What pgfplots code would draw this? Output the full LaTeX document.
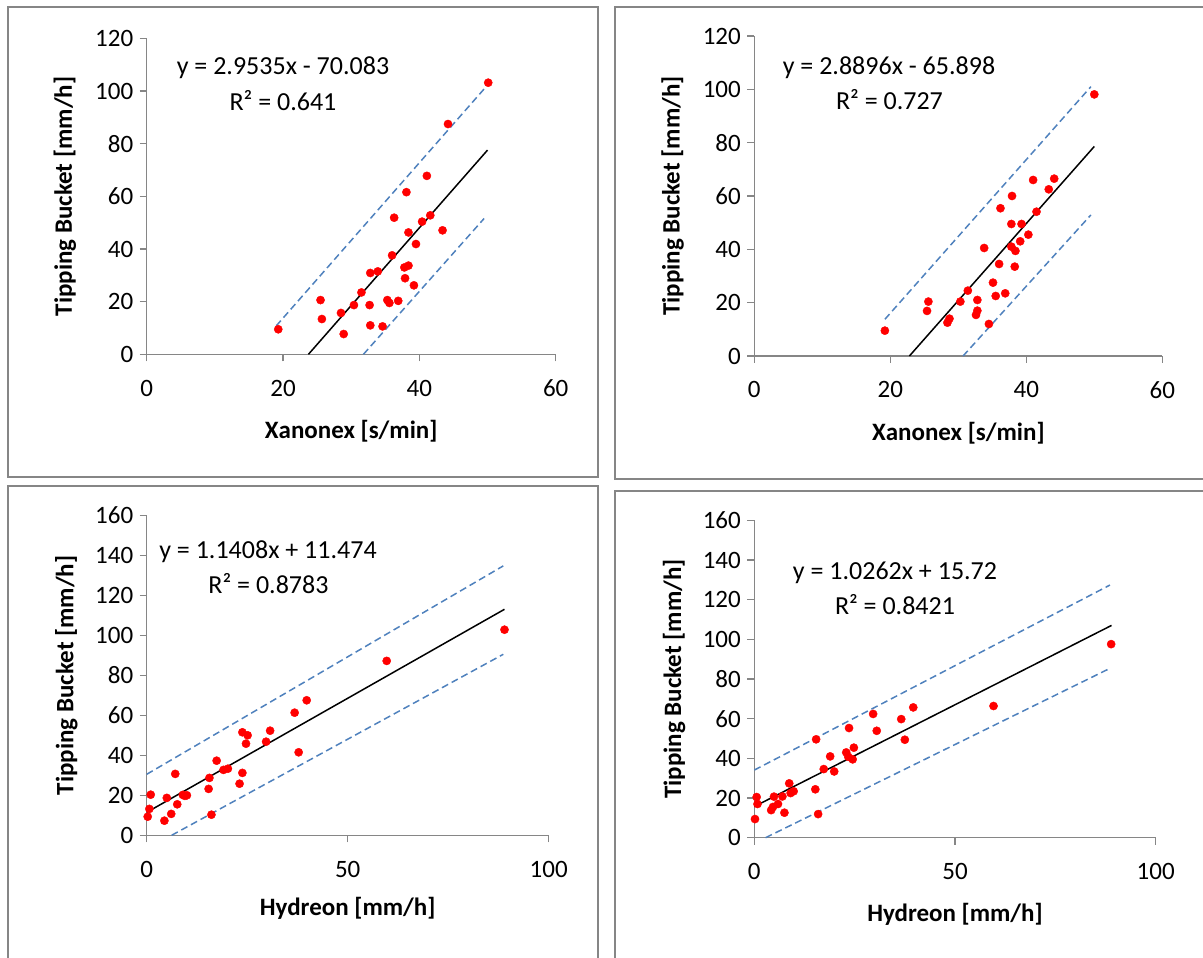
\documentclass[border=0pt]{standalone}
\usepackage{fontspec}
\setmainfont{Carlito}
\usepackage{pgfplots}
\pgfplotsset{compat=1.18}

\definecolor{axgray}{HTML}{868686}
\definecolor{bandblue}{HTML}{4F81BD}
\newcommand{\chartfont}{\fontsize{25bp}{30bp}\selectfont}
\newcommand{\eqfont}{\fontsize{26bp}{31bp}\selectfont}

\pgfplotsset{
  panel/.style={
    scale only axis,
    anchor=south west,
    axis lines=left,
    axis line style={-, axgray, line width=1.3bp},
    tick style={axgray, line width=1.3bp},
    tick align=outside,
    major tick length=7bp,
    clip=false,
    /pgf/number format/assume math mode=true,
    ticklabel style={font=\chartfont, black},
    xticklabel style={yshift=-15bp},
    yticklabel style={xshift=-3bp},
    label style={font=\chartfont\bfseries, black},
    ylabel style={at={(axis description cs:-0.2,0.5)}, anchor=center},
    xlabel style={at={(axis description cs:0.5,0)}, yshift=-77bp, anchor=center},
  },
  pts/.style={only marks, mark=*, mark size=4.1bp, color=red},
  trend/.style={black, line width=1.5bp, no marks},
  band/.style={bandblue, line width=1.5bp, dash pattern=on 7bp off 4bp, no marks},
}

\begin{document}
\begin{tikzpicture}[x=1bp, y=1bp]
\useasboundingbox (0,0) rectangle (1203,958);
% frames round the four charts
\draw[axgray, line width=2bp] (8,951) rectangle (598,481);
\draw[axgray, line width=2bp] (615,951) rectangle (1215,479);
\draw[axgray, line width=2bp] (8,472) rectangle (598,-10);
\draw[axgray, line width=2bp] (615,467) rectangle (1215,-10);

% top left
\begin{axis}[panel, at={(146.7bp,603.7bp)}, width=409bp, height=315.8bp,
  xmin=0, xmax=60, ymin=0, ymax=120, xtick={0,20,40,60}, ytick={0,20,...,120},
  xlabel={Xanonex [s/min]}, ylabel={Tipping Bucket [mm/h]}]
  \addplot[band] coordinates {(19.0,10.8) (50,102.3)};
  \addplot[band] coordinates {(31.8,0) (49.5,51.6)};
  \addplot[trend] coordinates {(23.73,0) (50,77.59)};
  \addplot[pts] coordinates {
    (19.3,9.5) (50.1,103.2) (44.2,87.5) (41.1,67.8) (38.1,61.6) (36.3,51.9)
    (40.4,50.4) (41.6,52.8) (43.4,47.1) (38.4,46.3) (39.5,41.9) (36.0,37.6)
    (37.8,33.0) (38.4,33.7) (37.9,28.9) (39.2,26.2) (32.8,30.9) (33.9,31.5)
    (31.5,23.5) (30.4,18.7) (32.7,18.7) (35.3,20.6) (35.6,19.5) (36.9,20.3)
    (25.5,20.6) (25.7,13.4) (28.5,15.7) (28.9,7.7) (32.8,11.0) (34.6,10.6)
  };
\end{axis}

% top right
\begin{axis}[panel, at={(754.3bp,602bp)}, width=408bp, height=320bp,
  xmin=0, xmax=60, ymin=0, ymax=120, xtick={0,20,40,60}, ytick={0,20,...,120},
  xlabel={Xanonex [s/min]}, ylabel={Tipping Bucket [mm/h]}]
  \addplot[band] coordinates {(19.2,13.75) (49.5,101)};
  \addplot[band] coordinates {(30.7,0) (49.5,52.9)};
  \addplot[trend] coordinates {(22.81,0) (50,78.58)};
  \addplot[pts] coordinates {
    (19.2,9.5) (50.0,98.1) (25.4,16.9) (25.6,20.4) (28.4,12.5) (28.7,14.0)
    (30.3,20.4) (31.4,24.5) (32.8,21.0) (32.8,17.0) (32.6,15.4) (34.5,12.0)
    (33.8,40.5) (35.1,27.5) (35.5,22.5) (36.9,23.5) (36.0,34.5) (36.2,55.4)
    (37.9,60.0) (37.8,49.5) (39.3,49.5) (37.8,41.0) (38.4,39.4) (39.1,43.0)
    (38.3,33.5) (40.3,45.5) (41.5,54.1) (41.0,66.0) (43.3,62.5) (44.1,66.5)
  };
\end{axis}

% bottom left
\begin{axis}[panel, at={(146.7bp,122.7bp)}, width=402bp, height=320bp,
  xmin=0, xmax=100, ymin=0, ymax=160, xtick={0,50,100}, ytick={0,20,...,160},
  xlabel={Hydreon [mm/h]}, ylabel={Tipping Bucket [mm/h]},
  xlabel style={yshift=4bp}]
  \addplot[band] coordinates {(0,30.5) (88.7,134.7)};
  \addplot[band] coordinates {(6.2,0) (88.7,90.5)};
  \addplot[trend] coordinates {(0,11.47) (89,113.0)};
  \addplot[pts] coordinates {
    (0.25,9.3) (0.66,13.2) (1.0,20.3) (4.4,7.3) (5.0,18.7) (6.1,10.7)
    (7.1,30.7) (7.6,15.5) (9.0,20.2) (9.5,19.7) (10.0,20.0) (15.4,23.2)
    (15.6,28.7) (16.1,10.3) (17.4,37.3) (19.1,32.7) (20.2,33.3) (23.1,25.8)
    (23.8,31.2) (23.8,51.5) (25.1,50.0) (24.7,45.8) (29.7,46.8) (30.7,52.3)
    (36.8,61.3) (37.8,41.5) (39.8,67.5) (59.7,87.2) (89.0,102.8)
  };
\end{axis}

% bottom right
\begin{axis}[panel, at={(754.3bp,120.3bp)}, width=401.4bp, height=317.3bp,
  xmin=0, xmax=100, ymin=0, ymax=160, xtick={0,50,100}, ytick={0,20,...,160},
  xlabel={Hydreon [mm/h]}, ylabel={Tipping Bucket [mm/h]}]
  \addplot[band] coordinates {(0,34.1) (88.6,127.4)};
  \addplot[band] coordinates {(2.8,0) (88.6,85.4)};
  \addplot[trend] coordinates {(0,15.72) (89,107.05)};
  \addplot[pts] coordinates {
    (0.17,9.4) (0.58,20.5) (0.8,17.0) (4.2,13.9) (4.65,15.5) (4.9,20.7)
    (5.9,17.0) (7.0,20.8) (7.5,12.6) (8.7,27.4) (9.05,22.5) (9.8,23.4)
    (15.2,24.4) (15.4,49.6) (15.9,11.9) (17.3,34.6) (18.9,41.0) (19.9,33.4)
    (22.9,43.0) (23.4,40.8) (24.5,39.5) (23.6,55.3) (24.8,45.4) (29.6,62.4)
    (30.5,53.9) (36.6,59.8) (37.5,49.4) (39.6,65.7) (59.6,66.4) (88.9,97.6)
  };
\end{axis}

% trendline equations
\node[font=\eqfont] at (283,890) {y = 2.9535x - 70.083};
\node[font=\eqfont] at (283,857) {R² = 0.641};
\node[font=\eqfont] at (889,890.7) {y = 2.8896x - 65.898};
\node[font=\eqfont] at (889.5,858) {R² = 0.727};
\node[font=\eqfont] at (268,406.3) {y = 1.1408x + 11.474};
\node[font=\eqfont] at (268.5,374.7) {R² = 0.8783};
\node[font=\eqfont] at (895,384.7) {y = 1.0262x + 15.72};
\node[font=\eqfont] at (895,353) {R² = 0.8421};
\end{tikzpicture}
\end{document}
